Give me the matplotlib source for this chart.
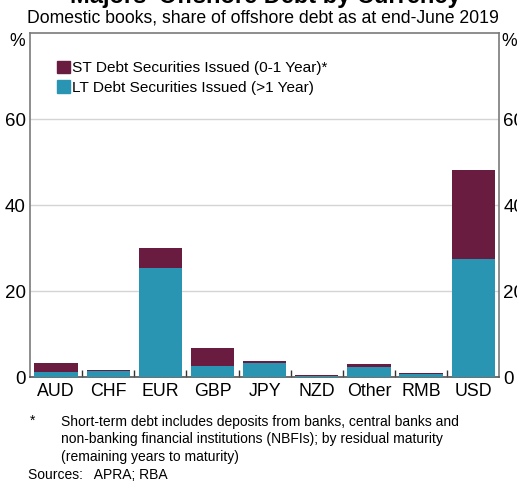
import matplotlib
matplotlib.use("Agg")
import matplotlib.pyplot as plt
import numpy as np
from matplotlib.patches import Patch

plt.rcParams['font.family'] = ['Liberation Sans', 'DejaVu Sans']

categories = ["AUD", "CHF", "EUR", "GBP", "JPY", "NZD", "Other", "RMB", "USD"]
lt_values = [1.3, 1.4, 25.3, 2.7, 3.4, 0.3, 2.5, 0.7, 27.4]
st_values = [2.0, 0.4, 4.8, 4.0, 0.4, 0.2, 0.65, 0.2, 20.8]
yticks = [0, 20, 40, 60]

ST_COLOR = "#6A1B40"
LT_COLOR = "#2A94B3"

W, H = 517, 482
fig = plt.figure(figsize=(W / 100, H / 100), dpi=100)
ax = fig.add_axes([30 / W, (H - 377.3) / H, (499.3 - 30) / W, (377.3 - 33) / H])

x = np.arange(len(categories))
ax.bar(x, lt_values, width=0.83, color=LT_COLOR, zorder=3)
ax.bar(x, st_values, bottom=lt_values, width=0.83, color=ST_COLOR, zorder=3)

ax.set_xlim(-0.5, len(categories) - 0.5)
ax.set_ylim(0, 80)
ax.set_yticks(yticks)
ax.set_yticklabels([str(v) for v in yticks])
ax.yaxis.grid(True, color="#d4d4d4", linewidth=1.0, zorder=0)
ax.tick_params(axis="y", length=0, labelsize=13.5, labelright=True, right=False, pad=3)

ax.set_xticks(x)
ax.set_xticklabels(categories)
ax.tick_params(axis="x", length=0, labelsize=12.8, pad=4)
# boundary ticks
ax.set_xticks(np.arange(len(categories) - 1) + 0.5, minor=True)
ax.tick_params(axis="x", which="minor", direction="in", length=5, width=1, color="#333333")

for s in ax.spines.values():
    s.set_color("#7a7a7a")
    s.set_linewidth(1.2)
ax.spines["bottom"].set_color("#555555")

handles = [Patch(color=ST_COLOR, label="ST Debt Securities Issued (0-1 Year)*"),
           Patch(color=LT_COLOR, label="LT Debt Securities Issued (>1 Year)")]
ax.legend(handles=handles, loc="upper left", bbox_to_anchor=(0.057, 0.919), frameon=False,
          fontsize=11.1, handlelength=0.85, handleheight=0.85, handletextpad=0.15,
          labelspacing=0.33, borderaxespad=0, borderpad=0)

fig.text(265 / W, 1 - 3 / H, "Majors' Offshore Debt by Currency", ha="center", va="baseline",
         fontsize=17, fontweight="bold")
fig.text(263 / W, 1 - 18 / H, "Domestic books, share of offshore debt as at end-June 2019",
         ha="center", va="center", fontsize=12.7)
fig.text(17 / W, 1 - 42 / H, "%", ha="center", va="center", fontsize=12.7)
fig.text(501 / W, 1 - 42 / H, "%", ha="left", va="center", fontsize=12.7)

fig.text(30 / W, 1 - 421 / H, "*", ha="left", va="center", fontsize=10)
foot_lines = ["Short-term debt includes deposits from banks, central banks and",
              "non-banking financial institutions (NBFIs); by residual maturity",
              "(remaining years to maturity)"]
for i, line in enumerate(foot_lines):
    fig.text(61 / W, 1 - (421.7 + 17.5 * i) / H, line, ha="left", va="center", fontsize=10)
fig.text(28 / W, 1 - 475 / H, "Sources:   APRA; RBA", ha="left", va="center", fontsize=10)

fig.savefig("out.png", dpi=100)
